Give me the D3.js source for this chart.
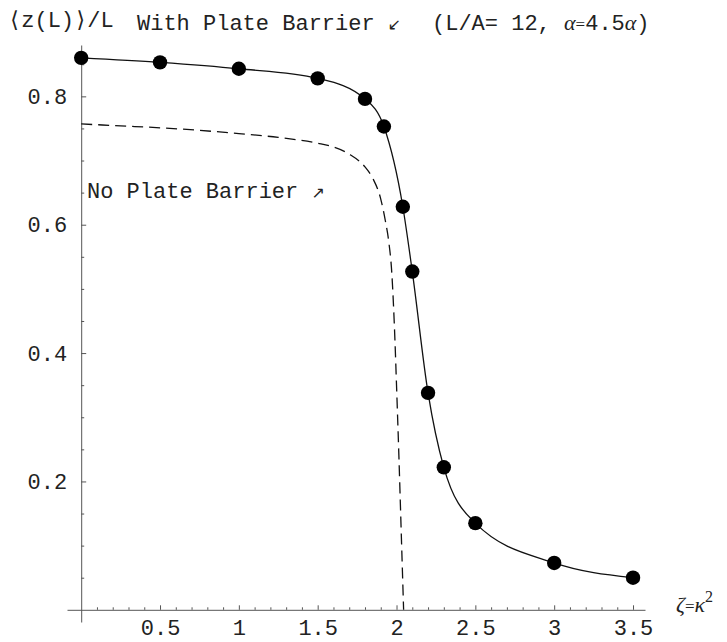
<!DOCTYPE html>
<html>
<head>
<meta charset="utf-8">
<script src="https://cdn.jsdelivr.net/npm/d3@7"></script>
<style>
  html, body { margin: 0; padding: 0; background: #fff; }
  svg { display: block; }
  .mono { font-family: "Liberation Mono", "Courier New", "DejaVu Sans Mono", monospace; }
</style>
</head>
<body>
<svg id="chart" width="727" height="642"></svg>
<script>
// ---- data ----
const xTickValues = [0.5, 1, 1.5, 2, 2.5, 3, 3.5];
const xTickLabels = ["0.5", "1", "1.5", "2", "2.5", "3", "3.5"];
const yTickValues = [0.2, 0.4, 0.6, 0.8];
const yTickLabels = ["0.2", "0.4", "0.6", "0.8"];

// "With Plate Barrier" (points + solid curve)
const withZeta  = [0, 0.5, 1.0, 1.5, 1.8, 1.92, 2.04, 2.1, 2.2, 2.3, 2.5, 3.0, 3.5];
const withValue = [0.860, 0.853, 0.843, 0.828, 0.796, 0.753, 0.628, 0.527, 0.338, 0.222, 0.135, 0.073, 0.050];

// "No Plate Barrier" (dashed curve)
const noZeta  = [0, 0.25, 0.5, 0.75, 1.0, 1.25, 1.5, 1.6, 1.7, 1.8, 1.85, 1.9, 1.93, 1.95, 1.97, 1.99, 2.0, 2.015, 2.03, 2.045];
const noValue = [0.757, 0.754, 0.751, 0.747, 0.742, 0.736, 0.727, 0.721, 0.710, 0.690, 0.672, 0.640, 0.605, 0.575, 0.525, 0.420, 0.350, 0.240, 0.120, 0.0];

// ---- layout ----
const svg = d3.select("#chart");
const x = d3.scaleLinear().domain([-0.09, 3.576]).range([67, 645]);
const y = d3.scaleLinear().domain([-0.019, 0.88]).range([622, 45]);
const axisColor = "#555";
const textColor = "#222";
const fontSize = 22;

// minor ticks
const xMinor = d3.range(1, 36).map(i => i / 10).filter(v => Math.abs(v * 2 - Math.round(v * 2)) > 1e-6);
const yMinor = d3.range(1, 18).map(i => i / 20).filter(v => Math.abs(v * 5 - Math.round(v * 5)) > 1e-6);

// X axis
const gx = svg.append("g").attr("transform", `translate(0,${y(0)})`);
gx.call(d3.axisBottom(x).tickValues(xTickValues).tickFormat((d, i) => xTickLabels[i])
  .tickSizeInner(-4.5).tickSizeOuter(0).tickPadding(9.5));
gx.append("g").call(d3.axisBottom(x).tickValues(xMinor).tickFormat("").tickSizeInner(-2.5).tickSizeOuter(0))
  .select(".domain").remove();

// Y axis
const gy = svg.append("g").attr("transform", `translate(${x(0)},0)`);
gy.call(d3.axisLeft(y).tickValues(yTickValues).tickFormat((d, i) => yTickLabels[i])
  .tickSizeInner(-5).tickSizeOuter(0).tickPadding(14));
gy.append("g").call(d3.axisLeft(y).tickValues(yMinor).tickFormat("").tickSizeInner(-3).tickSizeOuter(0))
  .select(".domain").remove();

svg.selectAll(".domain").attr("stroke", axisColor).attr("stroke-width", 1);
svg.selectAll(".tick line").attr("stroke", axisColor).attr("stroke-width", 1);
svg.selectAll(".tick text").attr("class", "mono").attr("fill", textColor)
  .style("font-size", fontSize + "px");

// curves
const noData = noZeta.map((z, i) => [z, noValue[i]]);
const withData = withZeta.map((z, i) => [z, withValue[i]]);

svg.append("path").datum(noData)
  .attr("fill", "none").attr("stroke", "#111").attr("stroke-width", 1.3)
  .attr("stroke-dasharray", "11,6")
  .attr("d", d3.line().x(d => x(d[0])).y(d => y(d[1])).curve(d3.curveMonotoneX));

svg.append("path").datum(withData)
  .attr("fill", "none").attr("stroke", "#111").attr("stroke-width", 1.3)
  .attr("d", d3.line().x(d => x(d[0])).y(d => y(d[1])).curve(d3.curveMonotoneX));

svg.append("g").selectAll("circle").data(withData).join("circle")
  .attr("cx", d => x(d[0])).attr("cy", d => y(d[1])).attr("r", 7.2).attr("fill", "#000");

// texts
const monoFam = '"Liberation Mono", "Courier New", "DejaVu Sans Mono", monospace';
const serifFam = '"Liberation Serif", "Times New Roman", serif';

svg.append("text").attr("x", 8).attr("y", 27)
  .attr("font-family", monoFam).attr("font-size", fontSize).attr("fill", textColor)
  .text("\u27E8z(L)\u27E9/L");

const t1 = svg.append("text").attr("x", 137).attr("y", 30)
  .attr("font-family", monoFam).attr("font-size", fontSize).attr("fill", textColor);
t1.append("tspan").text("With Plate Barrier ");
t1.append("tspan").attr("font-family", '"DejaVu Sans"').attr("font-size", 16).text("\u2199");

const t2 = svg.append("text").attr("x", 432).attr("y", 30)
  .attr("font-family", monoFam).attr("font-size", fontSize).attr("fill", textColor);
t2.append("tspan").text("(L/A= 12, ");
t2.append("tspan").attr("font-family", serifFam).attr("font-style", "italic").text("\u03B1");
t2.append("tspan").attr("font-family", serifFam).attr("font-size", 17).text("=");
t2.append("tspan").text("4.5");
t2.append("tspan").attr("font-family", serifFam).attr("font-style", "italic").text("\u03B1");
t2.append("tspan").text(")");

const t3 = svg.append("text").attr("x", 87).attr("y", 198)
  .attr("font-family", monoFam).attr("font-size", fontSize).attr("fill", textColor);
t3.append("tspan").text("No Plate Barrier ");
t3.append("tspan").attr("font-family", '"DejaVu Sans"').attr("font-size", 16).text("\u2197");

const t4 = svg.append("text").attr("x", 676).attr("y", 612)
  .attr("font-family", serifFam).attr("font-size", 22).attr("fill", textColor);
t4.append("tspan").attr("font-style", "italic").text("\u03B6");
t4.append("tspan").attr("font-size", 17).text("=");
t4.append("tspan").attr("font-style", "italic").text("\u03BA");
t4.append("tspan").attr("font-size", 16).attr("dy", -10).text("2");
</script>
</body>
</html>
